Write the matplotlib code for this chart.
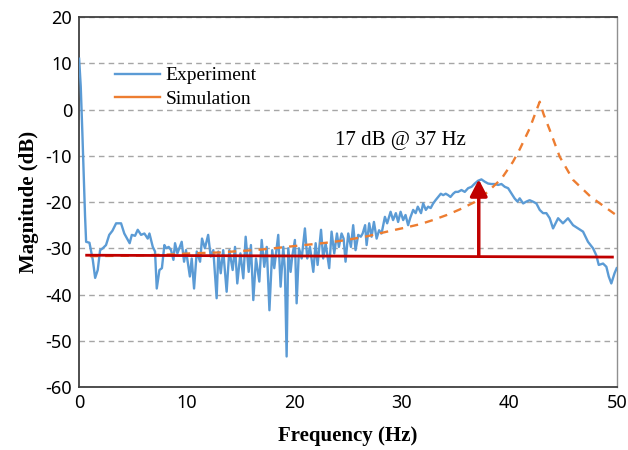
import matplotlib.pyplot as plt
from matplotlib.lines import Line2D

plt.rcParams["axes.unicode_minus"] = False

exp_f = [0.0, 0.15, 0.3, 0.42, 0.55, 0.65, 0.96, 1.27, 1.49, 1.73, 1.95, 2.2, 2.5, 2.8, 3.1,
         3.44, 3.9, 4.2, 4.7, 4.9, 5.2, 5.45, 5.76, 6.07, 6.38, 6.54, 6.85, 7.06, 7.22, 7.47,
         7.7, 7.93, 8.1, 8.33, 8.55, 8.77, 8.92, 9.14, 9.54, 9.76, 9.94, 10.3, 10.47, 10.69,
         10.94, 11.25, 11.43, 11.7, 12.0, 12.24, 12.48, 12.79, 12.95, 13.17, 13.4, 13.72,
         13.97, 14.28, 14.5, 14.71, 15.0, 15.27, 15.49, 15.77, 15.98, 16.2, 16.45, 16.76,
         16.98, 17.22, 17.45, 17.7, 17.96, 18.15, 18.52, 18.74, 18.99, 19.14, 19.3, 19.45,
         19.67, 19.82, 20.07, 20.23, 20.45, 20.7, 21.0, 21.22, 21.47, 21.78, 22.0, 22.18,
         22.5, 22.7, 22.93, 23.26, 23.48, 23.73, 23.98, 24.16, 24.41, 24.6, 24.78, 25.03,
         25.28, 25.49, 25.71, 25.96, 26.2, 26.37, 26.6, 26.74, 26.98, 27.2, 27.42, 27.67,
         27.9, 28.13, 28.44, 28.65, 28.97, 29.2, 29.46, 29.67, 29.9, 30.14, 30.36, 30.6,
         30.8, 31.07, 31.3, 31.5, 31.8, 32.0, 32.25, 32.46, 32.7, 32.93, 33.15, 33.4, 33.64,
         33.86, 34.1, 34.32, 34.54, 34.79, 35.0, 35.25, 35.56, 35.87, 36.18, 36.5, 36.8,
         37.1, 37.42, 37.73, 38.04, 38.35, 38.66, 38.97, 39.28, 39.59, 39.9, 40.2, 40.5,
         40.77, 40.98, 41.3, 41.6, 41.9, 42.2, 42.53, 42.84, 43.15, 43.46, 43.77, 44.08,
         44.55, 45.0, 45.47, 45.94, 46.4, 46.87, 47.33, 47.8, 48.1, 48.33, 48.73, 49.04,
         49.26, 49.5, 49.8, 50.0]
exp_db = [11, 5, -5, -14, -23, -28.6, -28.8, -32.5, -36.4, -34.7, -30.4, -30, -29.3, -27.1, -26.2,
          -24.6, -24.6, -26.8, -28.9, -27.1, -27.3, -26, -27.1, -26.8, -27.9, -26.8, -29.7, -30.7, -38.7, -34.7,
          -34.3, -29.3, -30, -29.7, -30.4, -32.5, -28.9, -31.1, -28.6, -32.9, -30.4, -36.1, -32.2, -38.7,
          -30.7, -32.9, -27.9, -30, -27.1, -31.8, -30.4, -40.8, -30.7, -35.4, -30.4, -39.4,
          -30.4, -34.7, -29.7, -37.6, -31.1, -36.5, -27.5, -35.1, -29.3, -41.2, -32.2, -37.2,
          -28.2, -34, -29.7, -43.4, -30.4, -34.3, -27.1, -38.3, -29.7, -34.7, -53.4, -30,
          -35.1, -31.8, -28.2, -41.9, -30, -32.2, -25.7, -32.2, -29.7, -35.1, -28.9, -33.6,
          -26, -32.2, -28.9, -34.3, -26.4, -31.1, -26.8, -29.7, -26.8, -27.9, -32.9, -26.8,
          -29.7, -25, -30.4, -27.1, -27.5, -26.8, -25, -29.3, -24.6, -27.5, -24.3, -27.9,
          -26.1, -26.8, -23.2, -24.6, -22.1, -23.9, -22.4, -24.3, -22.1, -23.9, -22.8, -25,
          -23.4, -21.7, -22.4, -21, -22.4, -20.3, -21.7, -21, -21.3, -20.3, -19.6, -18.9, -18.2,
          -18.5, -18.2, -18.5, -18.9, -18.2, -17.8, -17.8, -17.4, -17.8, -17.0, -16.7, -16,
          -15.4, -15.1, -15.6, -16, -16.1, -16.1, -16.3, -16.1, -16.7, -17.0, -18.1, -19.2,
          -19.9, -19.2, -20.3, -19.9, -19.6, -19.9, -20.3, -21.7, -22.4, -22.4, -23.5, -25.7,
          -23.5, -24.6, -23.5, -25, -25.7, -26.4, -28.6, -30, -31.5, -33.6, -33.3, -34.0,
          -36.1, -37.6, -35.4, -34.3]

# simulated response
sim_f = [1.0, 5.0, 8.9, 10.4, 11.7, 13.1, 14.3, 15.6, 16.8, 18.1, 19.3, 20.5, 21.8, 23.0,
         24.3, 25.6, 26.6, 27.9, 29.2, 30.4, 31.7, 32.9, 34.2, 35.4, 36.8, 38.0, 39.3, 40.35,
         41.0, 41.9, 42.4, 42.84, 43.2, 43.77, 44.7, 45.94, 47.6, 49.7, 50.0]
sim_db = [-31.7, -31.6, -31.3, -31.1, -31.0, -30.9, -30.7, -30.5, -30.3, -30.0, -29.7, -29.4,
          -29.1, -28.8, -28.4, -27.9, -27.5, -26.8, -26.1, -25.5, -24.8, -23.9, -22.8, -21.6,
          -20.0, -17.8, -14.9, -11.3, -8.5, -4.1, -1.0, 1.7, -1.0, -4.4, -10.2, -15.2, -18.9,
          -22.4, -22.9]

# baseline level and peak marker
base_f = [0.7, 49.6]
base_db = [-31.5, -31.9]
peak_f = 37.17
peak_db = -15.1
peak_text = "17 dB @ 37 Hz"

blue = "#5B9BD5"
orange = "#ED7D31"
red = "#C00000"

fig = plt.figure(figsize=(6.28, 4.5), dpi=100)
ax = fig.add_axes([0.126, 0.14, 0.856, 0.822])

ax.plot(exp_f, exp_db, color=blue, lw=1.7, zorder=3)
ax.plot(sim_f, sim_db, color=orange, lw=1.7, ls=(0, (3.5, 3)), zorder=3)
ax.plot(base_f, base_db, color=red, lw=2.0, zorder=4)
ax.annotate("", xy=(peak_f, peak_db), xytext=(peak_f, -31.7),
            arrowprops=dict(arrowstyle="-|>,head_width=0.26,head_length=0.5",
                            color=red, lw=2.5, shrinkA=0, shrinkB=0, mutation_scale=20),
            zorder=5)
ax.text(23.8, -6.6, peak_text, family="Liberation Serif", fontsize=15,
        ha="left", va="center")

ax.set_xlim(0, 50)
ax.set_ylim(-60, 20)
ax.set_xticks(range(0, 51, 10))
ax.set_yticks(range(-60, 21, 10))
ax.yaxis.grid(True, color="#a6a6a6", ls=(0, (4, 3)), lw=1.0)
ax.set_axisbelow(True)
ax.tick_params(length=0, labelsize=13, pad=5)
for lab in ax.get_xticklabels() + ax.get_yticklabels():
    lab.set_family("Noto Sans")
for s in ax.spines.values():
    s.set_color("#404040")
    s.set_linewidth(1.3)
ax.spines["right"].set_color("#909090")
ax.spines["right"].set_linewidth(1.0)

ax.set_xlabel("Frequency (Hz)", family="Liberation Serif", fontweight="bold",
              fontsize=15, labelpad=10)
ax.set_ylabel("Magnitude (dB)", family="Liberation Serif", fontweight="bold",
              fontsize=15, labelpad=5)

handles = [Line2D([], [], color=blue, lw=1.7), Line2D([], [], color=orange, lw=1.7)]
ax.legend(handles, ["Experiment", "Simulation"], loc="upper left",
          bbox_to_anchor=(0.034, 0.913), frameon=False, handlelength=2.3,
          handletextpad=0.3, labelspacing=0.3,
          prop={"family": "Liberation Serif", "size": 14})

fig.savefig("out.png", dpi=100)
